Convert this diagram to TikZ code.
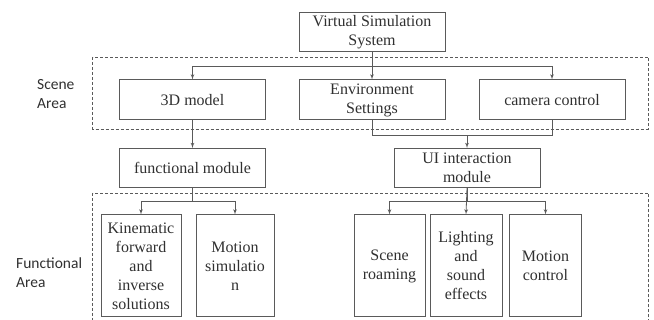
\documentclass[tikz,border=0pt]{standalone}
\usepackage{fontspec}
\setmainfont{Liberation Serif}
\newfontfamily\boxfont{Liberation Serif}
\newfontfamily\areafont{Carlito}
\usetikzlibrary{shapes, arrows}
\definecolor{edgegray}{HTML}{5A5A5A}
\definecolor{textgray}{HTML}{303030}
\tikzstyle{block} =
        [
                rectangle,
                draw = edgegray,
                line width = 1pt,
                text = textgray,
                font = \boxfont\fontsize{16}{19}\selectfont,
                align = center,
                inner sep = 0pt,
                minimum width = 146pt,
                minimum height = 40pt
        ]
\tikzstyle{tall} =
        [
                block,
                minimum width = 78pt,
                minimum height = 102pt
        ]
\tikzstyle{line} =
        [
                draw = edgegray,
                line width = 0.8pt,
                -latex'
        ]
\tikzstyle{area} =
        [
                draw = edgegray,
                line width = 0.9pt,
                dash pattern = on 3pt off 2pt
        ]
\tikzstyle{areatext} =
        [
                text = textgray,
                font = \areafont\fontsize{15.5}{19.5}\selectfont,
                align = left,
                anchor = west,
                inner sep = 0pt
        ]

\begin{document}
\begin{tikzpicture}[x = 1pt, y = 1pt]
        \useasboundingbox (0,0) rectangle (654,-320);
        \node [block, minimum height = 39pt] at (372,-32.5) (sys) {Virtual Simulation\\System};
        \node [block, below of = sys, node distance = 67.5pt] (env) {Environment\\Settings};
        \node [block, left of = env, node distance = 179.5pt] (model) {3D model};
        \node [block, right of = env, node distance = 180pt] (cam) {camera control};
        \node [block, minimum height = 39pt, below of = model, node distance = 68pt] (func) {functional module};
        \node [block, minimum height = 39pt, right of = func, node distance = 274.5pt] (ui) {UI interaction\\module};

        \node [tall, minimum width = 80pt] at (141,-266) (kin) {Kinematic\\forward\\and\\inverse\\solutions};
        \node [tall, right of = kin, node distance = 94pt] (msim) {Motion\\simulatio\\n};
        \node [tall, minimum width = 71pt] at (389.5,-266) (roam) {Scene\\roaming};
        \node [tall, minimum width = 72pt, right of = roam, node distance = 76.5pt] (light) {Lighting\\and\\sound\\effects};
        \node [tall, minimum width = 72pt, right of = light, node distance = 79.5pt] (mctl) {Motion\\control};

        \node [areatext] at (37,-94) (scenelbl) {Scene\\Area};
        \node [areatext] at (16,-272.5) (funclbl) {Functional\\Area};

        % dashed areas
        \draw [area] (92.5,-57) rectangle (648,-129);
        \begin{scope}
                \clip (0,0) rectangle (654,-320);
                \draw [area] (92.5,-193) rectangle (648,-340);
        \end{scope}

        \path [line] (sys) -- (env);
        \path [line] (sys.south) -- ++(0,-14) -| (model.north);
        \path [line] (sys.south) -- ++(0,-14) -| (cam.north);
        \path [draw = edgegray, line width = 0.8pt] (cam.south) -- ++(0,-15) -| (env.south);
        \path [line] (env.south) -- ++(0,-15) -| (ui.north);
        \path [line] (model) -- (func);
        \path [line] (func.south) -- ++(0,-13) -| (kin.north);
        \path [line] (func.south) -- ++(0,-13) -| (msim.north);
        \path [line] (ui.south) -- ++(0,-13) -| (roam.north);
        \path [line] (ui.south) -- (light.north);
        \path [line] (ui.south) -- ++(0,-13) -| (mctl.north);
\end{tikzpicture}
\end{document}
